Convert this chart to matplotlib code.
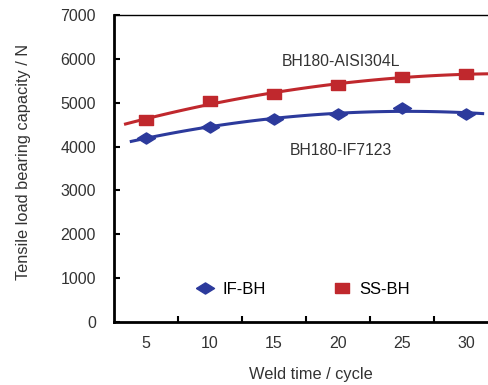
import numpy as np
import matplotlib
matplotlib.use('Agg')
import matplotlib.pyplot as plt

plt.rcParams['font.family'] = ['Liberation Sans', 'DejaVu Sans']

weld_time = [5, 10, 15, 20, 25, 30]
if_bh = [4200, 4450, 4620, 4740, 4870, 4740]
ss_bh = [4600, 5040, 5200, 5400, 5590, 5650]
y_ticks = [0, 1000, 2000, 3000, 4000, 5000, 6000, 7000]

blue = '#2c3a9c'
red = '#c0282d'
txt = '#333333'

# flattened markers, as in the original figure
diamond = [(-1, 0), (0, 0.62), (1, 0), (0, -0.62), (-1, 0)]
rect = [(-1, -0.68), (1, -0.68), (1, 0.68), (-1, 0.68), (-1, -0.68)]

fig = plt.figure(figsize=(4.89, 3.85), dpi=100)
ax = fig.add_axes([114/489, 63/385, 384/489, 307/385])

# trend lines (2nd order fit, like the spreadsheet trendline)
pb = np.polyfit(weld_time, if_bh, 2)
pr = np.polyfit(weld_time, ss_bh, 2)
xb = np.linspace(3.85, 31.3, 100)
xr = np.linspace(3.4, 32.5, 100)
ax.plot(xb, np.polyval(pb, xb), color=blue, lw=2.2, zorder=2)
ax.plot(xr, np.polyval(pr, xr), color=red, lw=2.2, zorder=2)

ax.plot(weld_time, if_bh, ls='none', marker=diamond, ms=13, color=blue, label='IF-BH', zorder=3)
ax.plot(weld_time, ss_bh, ls='none', marker=rect, ms=10, color=red, label='SS-BH', zorder=3)

ax.text(20.2, 5930, 'BH180-AISI304L', ha='center', va='center', fontsize=11.3, color=txt)
ax.text(20.2, 3920, 'BH180-IF7123', ha='center', va='center', fontsize=11.3, color=txt)

ax.set_xlim(2.5, 32.5)
ax.set_ylim(0, 7000)
ax.set_yticks(y_ticks)
ax.set_xticks(weld_time)
ax.set_xticks([7.5, 12.5, 17.5, 22.5, 27.5], minor=True)
ax.tick_params(axis='x', which='major', length=0, pad=10, labelsize=11.5, labelcolor=txt)
ax.tick_params(axis='x', which='minor', direction='in', length=4, width=1.5)
ax.tick_params(axis='y', direction='in', length=4, width=1.5, pad=13, labelsize=11.5, labelcolor=txt)

ax.spines['left'].set_linewidth(2)
ax.spines['bottom'].set_linewidth(2)
ax.spines['top'].set_linewidth(1)
ax.spines['right'].set_visible(False)

ax.set_ylabel('Tensile load bearing capacity / N', fontsize=11.8, color=txt)
ax.yaxis.set_label_coords(-0.217, 0.52)
ax.set_xlabel('Weld time / cycle', fontsize=11.8, color=txt)
ax.xaxis.set_label_coords(0.513, -0.145)

ax.legend(loc='center', bbox_to_anchor=(0.487, 0.105), ncol=2, frameon=False,
          fontsize=12, columnspacing=3.8, handletextpad=0.3, handlelength=1.5)

fig.savefig('out.png', dpi=100)
